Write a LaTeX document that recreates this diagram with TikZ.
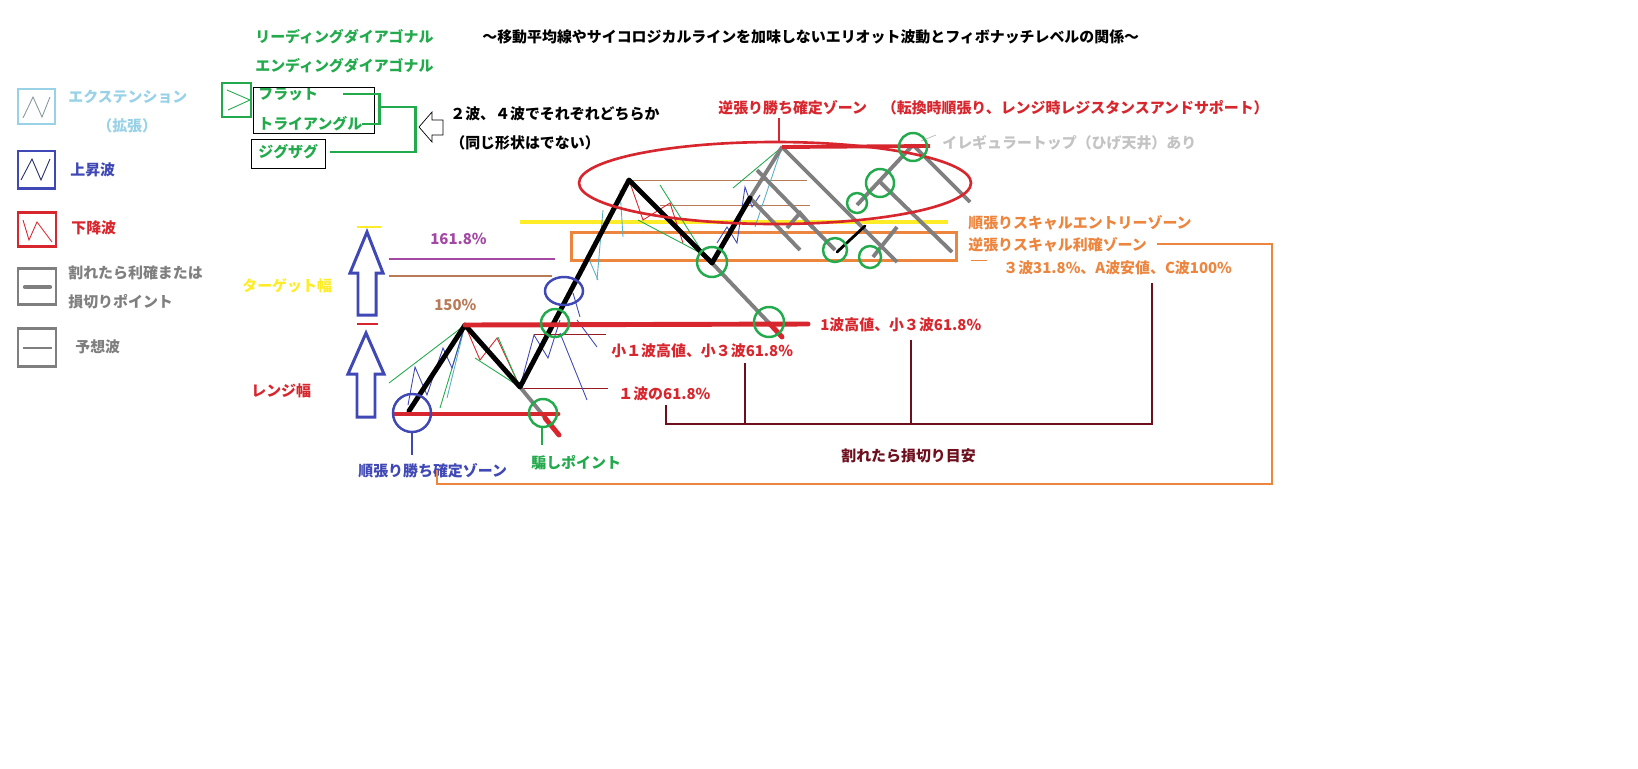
\documentclass[tikz,border=0pt]{standalone}
\usepackage{fontspec}
\setmainfont{Noto Sans CJK JP}
\usepackage{tikz}
\usetikzlibrary{arrows.meta,positioning}

\definecolor{pgreen}{RGB}{34,170,76}
\definecolor{pblue}{RGB}{63,72,180}
\definecolor{pred}{RGB}{215,38,45}
\definecolor{plblue}{RGB}{153,210,230}
\definecolor{pgray}{RGB}{127,127,127}
\definecolor{plgray}{RGB}{195,195,195}
\definecolor{pyellow}{RGB}{255,236,40}
\definecolor{ppurple}{RGB}{163,73,164}
\definecolor{pbrown}{RGB}{185,122,87}
\definecolor{porange}{RGB}{236,133,62}
\definecolor{pdark}{RGB}{110,15,30}
\definecolor{pteal}{RGB}{90,175,195}

\begin{document}
\begin{tikzpicture}[
  x=0.02cm, y=-0.02cm,
  lbl/.style={anchor=west, inner sep=0pt, font=\bfseries\fontsize{8.5}{10}\selectfont},
  legbox/.style={draw, line width=1.7pt},
  wave/.style={line width=2.8pt, line cap=round, line join=round},
  guess/.style={draw=pgray, line width=2.2pt},
  sub/.style={line width=0.5pt},
  level/.style={draw=pred, line width=2.8pt, line cap=round},
  ring/.style={draw=pgreen, line width=1.4pt},
  bracket/.style={draw=pdark, line width=1.4pt},
  hollow/.style={draw=pblue, line width=1.7pt, line join=miter}
]
\useasboundingbox (0,0) rectangle (1638,768);

% title and legend
\node[lbl] (title) at (482,37) {～移動平均線やサイコロジカルラインを加味しないエリオット波動とフィボナッチレベルの関係～};
\node[lbl, text=pgreen] (lead) at (255,37) {リーディングダイアゴナル};
\node[lbl, text=pgreen] (ending) at (255,66) {エンディングダイアゴナル};
\node[lbl, text=pgreen] (flat) at (258,94) {フラット};
\node[lbl, text=pgreen] (tri) at (258,124) {トライアングル};
\node[lbl, text=pgreen] (zig) at (258,152) {ジグザグ};
\node[lbl] (note1) at (450,114) {２波、４波でそれぞれどちらか};
\node[lbl] (note2) at (450,143) {（同じ形状はでない）};

\draw[legbox, draw=pgreen] (222,83) rectangle (251,117);
\draw[pgreen, sub] (227,90) -- (250,100) -- (228,110);
\draw (253,87) rectangle (374,133);
\draw (251,139) rectangle (325,168);
\coordinate (fork) at (379,107);
\coordinate (join) at (415,107);
\draw[pgreen, line width=1.7pt] (343,94) -| (fork) |- (362,124);
\draw[pgreen, line width=1.7pt] (fork) -- (join) |- (330,152);
\draw (419,127) -- (432,112) -- (432,120) -- (443,120) -- (443,135) -- (432,135) -- (432,142) -- cycle;

\draw[legbox, draw=plblue] (18,89) rectangle (55,124);
\draw[sub, pgray!70!plblue] (23,118) -- (33,97) -- (42,117) -- (50,97);
\node[lbl, text=plblue] (ext) at (68,97) {エクステンション};
\node[lbl, text=plblue] (extsub) at (97,126) {（拡張）};
\draw[legbox, draw=pblue] (18,151) rectangle (55,188);
\draw[sub, pblue!60!black] (21,180) -- (32,159) -- (41,180) -- (50,159);
\node[lbl, text=pblue] (upw) at (70,170) {上昇波};
\draw[legbox, draw=pred] (18,212) rectangle (56,246);
\draw[sub, pred] (23,220) -- (29,240) -- (37,222) -- (52,242);
\node[lbl, text=pred] (downw) at (71,228) {下降波};
\draw[legbox, draw=pgray] (18,268) rectangle (56,304);
\draw[draw=pgray, line width=2.4pt, line cap=round] (25,287) -- (50,287);
\node[lbl, text=pgray] (stopa) at (68,273) {割れたら利確または};
\node[lbl, text=pgray] (stopb) at (68,302) {損切りポイント};
\draw[legbox, draw=pgray] (18,328) rectangle (56,366);
\draw[draw=pgray, line width=1.1pt] (23,348) -- (52,348);
\node[lbl, text=pgray] (guessw) at (75,347) {予想波};

% target and range arrows
\node[lbl, text=pyellow] (target) at (242,286) {ターゲット幅};
\node[lbl, text=pred] (range) at (251,391) {レンジ幅};
\draw[hollow] (367,232) -- (383,273) -- (376,273) -- (376,315) -- (358,315) -- (358,273) -- (350,273) -- cycle;
\draw[hollow] (366,333) -- (384,374) -- (375,374) -- (375,417) -- (357,417) -- (357,374) -- (348,374) -- cycle;
\draw[draw=pyellow, line width=1.6pt] (357,227) -- (381,227);
\draw[draw=pred, line width=1.6pt] (357,324) -- (378,324);

% fibonacci levels
\node[lbl, text=ppurple] (fib1) at (430,239) {161.8\%};
\node[lbl, text=pbrown] (fib2) at (434,305) {150\%};
\draw[draw=ppurple, line width=1.3pt] (389,259) -- (555,259);
\draw[draw=pbrown, line width=1.3pt] (389,276) -- (552,276);
\draw[draw=pyellow, line width=1.8pt] (520,222) -- (948,222);
\draw[draw=porange, line width=1.7pt] (571,232) rectangle (956,260);
\draw[draw=pbrown, sub] (629,180) -- (807,180);
\draw[draw=pbrown, sub] (660,205) -- (810,205);
\draw[draw=pred!70!black, sub] (534,334) -- (606,334);
\draw[draw=pred!70!black, sub] (520,388) -- (608,388);

% wave points
\coordinate (w0) at (409,411);
\coordinate (w1) at (465,325);
\coordinate (w2) at (520,387);
\coordinate (w3) at (629,180);
\coordinate (w4) at (712,263);
\coordinate (w5a) at (750,198);
\coordinate (w5) at (782,147);

% sub waves
\draw[sub, pgreen] (389,383) -- (w1);
\draw[sub, pgreen] (440,408) -- (w1);
\draw[sub, pteal] (447,398) -- (w1);
\draw[sub, pblue] (408,405) -- (415,367) -- (427,395) -- (443,348) -- (452,368) -- (w1);
\draw[sub, pred] (w1) -- (480,360) -- (497,338) -- (w2);
\draw[sub, pgreen] (475,358) -- (w2);
\draw[sub, pgreen] (498,337) -- (518,383);
\draw[sub, pblue] (w2) -- (534,335) -- (548,358) -- (560,320);
\draw[sub, pblue] (560,333) -- (587,400);
\draw[sub, pblue] (577,320) -- (597,347);
\draw[sub, pblue] (573,293) -- (580,317);
\draw[sub, pteal] (588,257) -- (598,280);
\draw[sub, pteal] (603,210) -- (597,280);
\draw[sub, pteal] (620,190) -- (623,237);
\draw[sub, pred] (w3) -- (643,220) -- (670,203) -- (683,243);
\draw[sub, pgreen] (660,185) -- (703,253);
\draw[sub, pgreen] (638,220) -- (710,258);
\draw[sub, pblue] (717,243) -- (727,227) -- (737,243) -- (745,187) -- (752,207) -- (760,195);
\draw[sub, pgreen] (733,188) -- (w5);
\draw[sub, pteal] (755,227) -- (w5);

% expected waves
\draw[guess, line cap=round] (w5a) -- (w5);
\draw[guess] (w5) -- (897,262);
\draw[guess] (757,170) -- (835,250);
\draw[guess] (750,198) -- (800,250);
\draw[guess] (787,228) -- (800,213) -- (813,228);
\draw[guess] (857,205) -- (913,145);
\draw[guess] (913,145) -- (970,202);
\draw[guess] (880,182) -- (952,252);
\draw[guess] (897,227) -- (873,257);
\draw[guess] (w2) -- (547,420);
\draw[guess] (w4) -- (770,324);
\draw[wave, line width=1.6pt] (837,252) -- (865,226);

% main impulse
\draw[wave] (w0) -- (w1) -- (w2) -- (w3) -- (w4) -- (w5a);
\draw[level] (395,414) -- (558,414);
\draw[level] (w1) -- (808,324);
\draw[level] (545,418) -- (559,435);
\draw[level] (770,324) -- (782,337);

% zones
\draw[draw=pred, line width=1.5pt] (775,183) ellipse [x radius=196, y radius=41];
\draw[draw=pred, line width=2.2pt] (w5) -- (930,146);
\node[lbl, text=pred] (cntzone) at (718,108) {逆張り勝ち確定ゾーン　（転換時順張り、レンジ時レジスタンスアンドサポート）};
\draw[draw=pred, line width=1.4pt] (779,118) -- (779,143);
\node[lbl, text=plgray] (irr) at (942,143) {イレギュラートップ（ひげ天井）あり};
\draw[plgray, sub] (921,141) -- (936,135);

\draw[draw=pblue, line width=1.4pt] (412,413) circle [radius=19];
\draw[draw=pblue, line width=1.4pt] (564,291) ellipse [x radius=19, y radius=14];
\draw[ring] (543,413) circle [radius=14];
\draw[ring] (555,323) circle [radius=14];
\draw[ring] (712,262) circle [radius=15];
\draw[ring] (769,322) circle [radius=15];
\draw[ring] (835,250) circle [radius=12];
\draw[ring] (870,257) circle [radius=11];
\draw[ring] (857,203) circle [radius=10];
\draw[ring] (880,183) circle [radius=14];
\draw[ring] (913,147) circle [radius=14];

% labels under chart
\draw[draw=pblue, line width=1.4pt] (412,432) -- (412,455);
\node[lbl, text=pblue] (trendzone) at (358,471) {順張り勝ち確定ゾーン};
\draw[draw=pgreen, line width=1.4pt] (542,428) -- (542,445);
\node[lbl, text=pgreen] (fake) at (531,463) {騙しポイント};

\node[lbl, text=porange] (scalin) at (968,223) {順張りスキャルエントリーゾーン};
\node[lbl, text=porange] (scalout) at (968,245) {逆張りスキャル利確ゾーン};
\draw[draw=porange, sub] (971,260) -- (987,260);
\node[lbl, text=porange] (abc) at (1003,268) {３波31.8\%、A波安値、C波100\%};

\node[lbl, text=pred] (hi1) at (820,325) {1波高値、小３波61.8\%};
\node[lbl, text=pred] (sub1) at (611,351) {小１波高値、小３波61.8\%};
\node[lbl, text=pred] (ret1) at (618,394) {１波の61.8\%};
\node[lbl, text=pdark] (stopmark) at (841,456) {割れたら損切り目安};

\draw[bracket] (666,405) |- (1152,424) -- (1152,283);
\draw[bracket] (745,363) -- (745,424);
\draw[bracket] (911,340) -- (911,424);
\draw[draw=porange, line width=1.4pt] (1157,244) -| (1272,484) -| (437,470);
\end{tikzpicture}
\end{document}
